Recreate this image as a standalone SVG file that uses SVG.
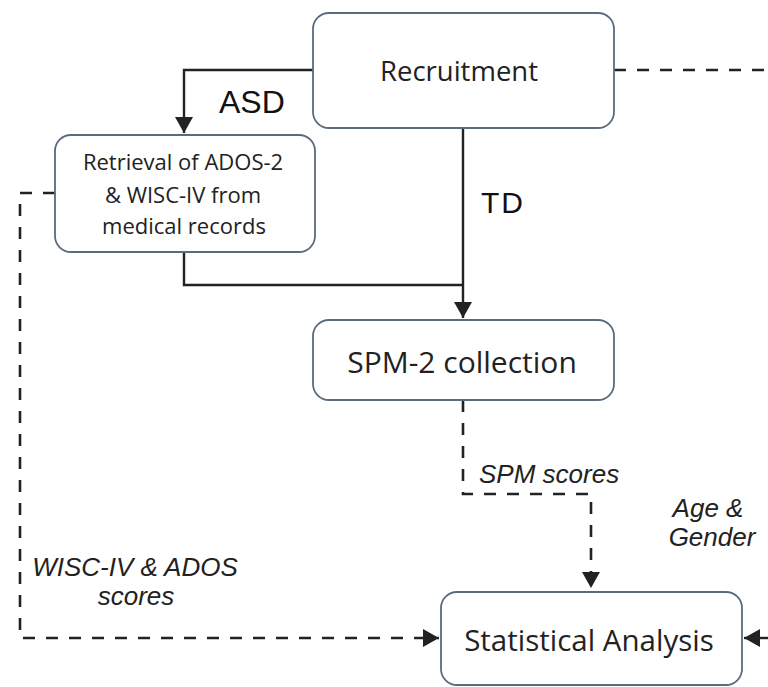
<svg xmlns="http://www.w3.org/2000/svg" width="768" height="687" viewBox="0 0 768 687">
<style>
.box{fill:#fff;stroke:#5b6b7e;stroke-width:1.8}
.nt{font-family:"Open Sans","Noto Sans",sans-serif;fill:#222;text-anchor:middle}
.solid{fill:none;stroke:#222;stroke-width:2.4}
.dash{fill:none;stroke:#222;stroke-width:2.6;stroke-dasharray:12 11}
.lbl{font-family:"Liberation Sans",Arial,sans-serif;fill:#111}
.it{font-family:"Liberation Sans",Arial,sans-serif;font-style:italic;fill:#222}
</style>
<defs>
<marker id="ah" viewBox="0 0 16 18" refX="16" refY="9" markerWidth="16" markerHeight="18" markerUnits="userSpaceOnUse" orient="auto">
<path d="M0,0 L16,9 L0,18 Z" fill="#222"/>
</marker>
</defs>
<rect width="768" height="687" fill="#fff"/>
<g id="connectors">
<path class="solid" d="M313,70 H184 V133" marker-end="url(#ah)"/>
<path class="solid" d="M463,128 V318" marker-end="url(#ah)"/>
<path class="solid" d="M184,252 V285 H463"/>
<path class="dash" d="M463,400 V494 H591 V588" marker-end="url(#ah)"/>
<path class="dash" d="M55,193 H20 V638 H439" marker-end="url(#ah)"/>
<path class="dash" d="M614,70 H768"/>
<path class="solid" d="M768,638 H744" marker-end="url(#ah)"/>
</g>
<g id="recruitment">
<rect class="box" x="313" y="13" width="301" height="115" rx="16"/>
<text class="nt" x="459" y="81" font-size="27.5">Recruitment</text>
</g>
<g id="retrieval">
<rect class="box" x="55" y="135" width="260" height="117" rx="16"/>
<text class="nt" x="183" y="170" font-size="22">Retrieval of ADOS-2</text>
<text class="nt" x="183" y="203" font-size="22">&amp; WISC-IV from</text>
<text class="nt" x="184" y="234" font-size="22">medical records</text>
</g>
<g id="spm">
<rect class="box" x="313" y="320" width="301" height="80" rx="16"/>
<text class="nt" x="462" y="373" font-size="30">SPM-2 collection</text>
</g>
<g id="stat">
<rect class="box" x="441" y="592" width="301" height="93" rx="16"/>
<text class="nt" x="589" y="651" font-size="29.5">Statistical Analysis</text>
</g>
<g id="labels">
<text class="lbl" x="219" y="113" font-size="32">ASD</text>
<text class="lbl" x="481" y="213" font-size="30" letter-spacing="2">TD</text>
<text class="it" x="479" y="483" font-size="26">SPM scores</text>
<text class="it" x="708" y="517" font-size="26" text-anchor="middle">Age &amp;</text>
<text class="it" x="712" y="546" font-size="26" text-anchor="middle">Gender</text>
<text class="it" x="135" y="576" font-size="26" text-anchor="middle">WISC-IV &amp; ADOS</text>
<text class="it" x="136" y="605" font-size="26" text-anchor="middle">scores</text>
</g>
</svg>
